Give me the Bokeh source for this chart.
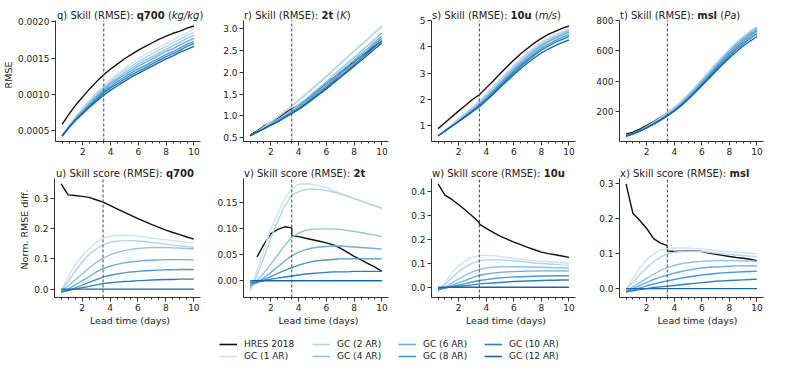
import math
from bokeh.plotting import figure
from bokeh.layouts import column, row, Spacer
from bokeh.models import FixedTicker, PrintfTickFormatter, Label, Legend, LegendItem, Range1d
from bokeh.embed import file_html
from bokeh.resources import INLINE

nan = float("nan")

# ---------------- data ----------------
LEAD = [0.5, 1.0, 1.5, 2.0, 2.5, 3.0, 3.5, 4.0, 4.5, 5.0, 5.5, 6.0, 6.5, 7.0, 7.5, 8.0, 8.5, 9.0, 9.5, 10.0]
LEAD_HRES_SCORE = [0.5, 1.0, 1.5, 2.0, 2.5, 3.0, 3.5, 3.5, 4.0, 4.5, 5.0, 5.5, 6.0, 6.5, 7.0, 7.5, 8.0, 8.5, 9.0, 9.5, 10.0]
SERIES = ["HRES 2018", "GC (1 AR)", "GC (2 AR)", "GC (4 AR)", "GC (6 AR)", "GC (8 AR)", "GC (10 AR)", "GC (12 AR)"]
X_TICKS = [2, 4, 6, 8, 10]
MARKER_DAY = 3.5  # dashed vertical reference line

# q700 RMSE (kg/kg)
q700_rmse_hres = [0.00059, 0.00073, 0.00086, 0.00097, 0.00108, 0.00118, 0.00127, 0.00135, 0.00142, 0.00149, 0.00155, 0.00161, 0.00166, 0.00171, 0.00176, 0.00180, 0.00184, 0.00187, 0.00191, 0.00194]
q700_rmse_gc1 = [0.00043, 0.00057, 0.00070, 0.00082, 0.00093, 0.00103, 0.00112, 0.00121, 0.00129, 0.00136, 0.00143, 0.00149, 0.00155, 0.00160, 0.00165, 0.00170, 0.00175, 0.00180, 0.00185, 0.00189]
q700_rmse_gc2 = [0.00043, 0.00056, 0.00069, 0.00080, 0.00091, 0.00101, 0.00110, 0.00118, 0.00126, 0.00133, 0.00139, 0.00145, 0.00151, 0.00156, 0.00161, 0.00166, 0.00171, 0.00176, 0.00181, 0.00185]
q700_rmse_gc4 = [0.00043, 0.00056, 0.00068, 0.00079, 0.00089, 0.00099, 0.00108, 0.00116, 0.00123, 0.00130, 0.00136, 0.00142, 0.00147, 0.00152, 0.00157, 0.00162, 0.00167, 0.00172, 0.00177, 0.00181]
q700_rmse_gc6 = [0.00043, 0.00055, 0.00067, 0.00077, 0.00087, 0.00097, 0.00106, 0.00114, 0.00121, 0.00127, 0.00133, 0.00139, 0.00144, 0.00149, 0.00154, 0.00159, 0.00163, 0.00168, 0.00173, 0.00177]
q700_rmse_gc8 = [0.00043, 0.00055, 0.00066, 0.00076, 0.00086, 0.00095, 0.00104, 0.00111, 0.00118, 0.00124, 0.00130, 0.00135, 0.00140, 0.00145, 0.00150, 0.00155, 0.00159, 0.00164, 0.00169, 0.00173]
q700_rmse_gc10 = [0.00043, 0.00055, 0.00066, 0.00075, 0.00084, 0.00093, 0.00102, 0.00109, 0.00115, 0.00121, 0.00127, 0.00132, 0.00137, 0.00142, 0.00147, 0.00152, 0.00156, 0.00161, 0.00166, 0.00170]
q700_rmse_gc12 = [0.00043, 0.00055, 0.00065, 0.00074, 0.00083, 0.00091, 0.00099, 0.00106, 0.00112, 0.00118, 0.00124, 0.00129, 0.00134, 0.00139, 0.00144, 0.00149, 0.00153, 0.00158, 0.00162, 0.00166]

# 2t RMSE (K)
t2m_rmse_hres = [0.56, 0.66, 0.77, 0.86, 0.95, 1.06, 1.16, 1.25, 1.36, 1.48, 1.61, 1.74, 1.87, 2.00, 2.12, 2.24, 2.36, 2.48, 2.60, 2.72]
t2m_rmse_gc1 = [0.54, 0.64, 0.75, 0.87, 0.98, 1.11, 1.24, 1.36, 1.50, 1.64, 1.78, 1.92, 2.06, 2.21, 2.35, 2.49, 2.63, 2.77, 2.92, 3.06]
t2m_rmse_gc2 = [0.54, 0.64, 0.74, 0.86, 0.97, 1.10, 1.22, 1.35, 1.48, 1.62, 1.76, 1.90, 2.05, 2.19, 2.34, 2.48, 2.62, 2.76, 2.91, 3.04]
t2m_rmse_gc4 = [0.54, 0.63, 0.72, 0.82, 0.91, 1.03, 1.14, 1.26, 1.38, 1.52, 1.65, 1.78, 1.93, 2.07, 2.21, 2.34, 2.48, 2.62, 2.76, 2.90]
t2m_rmse_gc6 = [0.54, 0.63, 0.71, 0.80, 0.89, 1.00, 1.10, 1.21, 1.34, 1.47, 1.60, 1.73, 1.87, 2.01, 2.14, 2.28, 2.42, 2.55, 2.70, 2.83]
t2m_rmse_gc8 = [0.55, 0.63, 0.71, 0.80, 0.88, 0.98, 1.08, 1.18, 1.30, 1.43, 1.56, 1.68, 1.82, 1.96, 2.09, 2.23, 2.37, 2.50, 2.65, 2.78]
t2m_rmse_gc10 = [0.55, 0.63, 0.71, 0.79, 0.87, 0.97, 1.06, 1.16, 1.28, 1.40, 1.52, 1.65, 1.78, 1.91, 2.04, 2.18, 2.31, 2.44, 2.59, 2.72]
t2m_rmse_gc12 = [0.55, 0.63, 0.71, 0.79, 0.87, 0.96, 1.05, 1.15, 1.26, 1.38, 1.50, 1.62, 1.75, 1.88, 2.01, 2.14, 2.27, 2.40, 2.54, 2.67]

# 10u RMSE (m/s)
u10_rmse_hres = [0.90, 1.12, 1.35, 1.57, 1.78, 2.00, 2.18, 2.44, 2.70, 2.97, 3.24, 3.49, 3.73, 3.94, 4.14, 4.31, 4.46, 4.58, 4.69, 4.78]
u10_rmse_gc1 = [0.62, 0.83, 1.05, 1.28, 1.50, 1.73, 1.96, 2.22, 2.49, 2.76, 3.03, 3.29, 3.54, 3.76, 3.97, 4.17, 4.32, 4.46, 4.57, 4.68]
u10_rmse_gc2 = [0.62, 0.82, 1.03, 1.25, 1.46, 1.69, 1.92, 2.18, 2.45, 2.73, 3.00, 3.26, 3.51, 3.73, 3.94, 4.13, 4.29, 4.42, 4.54, 4.64]
u10_rmse_gc4 = [0.62, 0.81, 1.01, 1.21, 1.42, 1.64, 1.86, 2.12, 2.38, 2.66, 2.93, 3.19, 3.44, 3.66, 3.88, 4.07, 4.23, 4.37, 4.49, 4.59]
u10_rmse_gc6 = [0.62, 0.81, 1.00, 1.19, 1.39, 1.60, 1.82, 2.07, 2.33, 2.60, 2.87, 3.13, 3.38, 3.61, 3.82, 4.02, 4.18, 4.31, 4.43, 4.54]
u10_rmse_gc8 = [0.62, 0.81, 0.99, 1.18, 1.37, 1.57, 1.78, 2.02, 2.28, 2.55, 2.81, 3.07, 3.31, 3.53, 3.74, 3.94, 4.09, 4.23, 4.35, 4.45]
u10_rmse_gc10 = [0.63, 0.81, 0.99, 1.17, 1.36, 1.56, 1.75, 1.99, 2.24, 2.50, 2.76, 3.01, 3.25, 3.47, 3.68, 3.87, 4.02, 4.16, 4.27, 4.38]
u10_rmse_gc12 = [0.63, 0.81, 0.99, 1.17, 1.35, 1.54, 1.73, 1.96, 2.20, 2.45, 2.70, 2.94, 3.17, 3.38, 3.58, 3.76, 3.91, 4.04, 4.15, 4.25]

# msl RMSE (Pa)
msl_rmse_hres = [50, 63, 84, 108, 133, 160, 190, 224, 263, 308, 356, 406, 458, 508, 556, 603, 646, 685, 719, 748]
msl_rmse_gc1 = [38, 54, 74, 100, 128, 158, 189, 225, 266, 310, 359, 410, 461, 512, 562, 610, 655, 695, 730, 762]
msl_rmse_gc2 = [38, 53, 73, 97, 125, 155, 187, 223, 263, 308, 356, 407, 458, 509, 559, 606, 650, 689, 725, 757]
msl_rmse_gc4 = [38, 52, 71, 95, 121, 149, 180, 215, 255, 299, 347, 397, 448, 499, 549, 596, 640, 680, 715, 747]
msl_rmse_gc6 = [38, 52, 71, 94, 119, 147, 177, 211, 250, 293, 340, 390, 440, 491, 540, 587, 632, 671, 706, 738]
msl_rmse_gc8 = [38, 52, 70, 93, 118, 145, 174, 207, 245, 287, 334, 382, 432, 482, 531, 577, 621, 660, 695, 728]
msl_rmse_gc10 = [38, 52, 70, 92, 116, 143, 171, 204, 241, 282, 327, 374, 423, 472, 519, 565, 607, 646, 680, 712]
msl_rmse_gc12 = [38, 52, 70, 92, 116, 142, 170, 202, 238, 278, 322, 368, 415, 462, 508, 552, 593, 630, 663, 693]

# q700 skill score
q700_score_hres = [0.350, 0.313, 0.311, 0.308, 0.305, 0.297, 0.289, 0.289, 0.278, 0.267, 0.256, 0.245, 0.234, 0.224, 0.214, 0.205, 0.196, 0.188, 0.181, 0.173, 0.166]
q700_score_gc1 = [-0.005, 0.040, 0.080, 0.110, 0.135, 0.155, 0.168, 0.175, 0.178, 0.179, 0.178, 0.176, 0.173, 0.170, 0.167, 0.164, 0.161, 0.158, 0.156, 0.154]
q700_score_gc2 = [-0.008, 0.025, 0.060, 0.090, 0.115, 0.133, 0.147, 0.155, 0.159, 0.161, 0.161, 0.160, 0.158, 0.155, 0.152, 0.149, 0.146, 0.143, 0.141, 0.139]
q700_score_gc4 = [-0.010, 0.010, 0.030, 0.050, 0.070, 0.088, 0.103, 0.114, 0.122, 0.128, 0.132, 0.135, 0.137, 0.138, 0.138, 0.138, 0.137, 0.136, 0.135, 0.134]
q700_score_gc6 = [-0.010, 0.000, 0.014, 0.027, 0.041, 0.056, 0.068, 0.076, 0.082, 0.087, 0.090, 0.093, 0.095, 0.096, 0.097, 0.098, 0.098, 0.098, 0.098, 0.097]
q700_score_gc8 = [-0.010, -0.005, 0.004, 0.013, 0.022, 0.031, 0.040, 0.046, 0.050, 0.054, 0.057, 0.059, 0.061, 0.062, 0.063, 0.064, 0.064, 0.065, 0.065, 0.065]
q700_score_gc10 = [-0.008, -0.004, 0.000, 0.005, 0.009, 0.014, 0.018, 0.021, 0.023, 0.025, 0.026, 0.028, 0.029, 0.030, 0.031, 0.032, 0.032, 0.033, 0.033, 0.033]
q700_score_gc12 = [0.0] * 20

# 2t skill score
t2m_score_hres = [nan, 0.046, 0.070, 0.091, 0.099, 0.104, 0.102, 0.087, 0.085, 0.082, 0.079, 0.076, 0.073, 0.069, 0.063, 0.055, 0.047, 0.040, 0.033, 0.026, 0.018]
t2m_score_gc1 = [-0.022, 0.020, 0.060, 0.100, 0.130, 0.158, 0.178, 0.186, 0.187, 0.186, 0.183, 0.179, 0.174, 0.169, 0.164, 0.159, 0.154, 0.149, 0.144, 0.139]
t2m_score_gc2 = [-0.017, 0.010, 0.045, 0.083, 0.115, 0.145, 0.165, 0.172, 0.176, 0.177, 0.176, 0.174, 0.171, 0.167, 0.163, 0.158, 0.154, 0.149, 0.145, 0.140]
t2m_score_gc4 = [-0.013, 0.000, 0.015, 0.032, 0.050, 0.068, 0.084, 0.092, 0.097, 0.099, 0.100, 0.100, 0.100, 0.099, 0.097, 0.095, 0.093, 0.090, 0.088, 0.085]
t2m_score_gc6 = [-0.010, -0.004, 0.006, 0.016, 0.027, 0.038, 0.048, 0.055, 0.060, 0.063, 0.065, 0.066, 0.067, 0.067, 0.066, 0.065, 0.064, 0.063, 0.062, 0.061]
t2m_score_gc8 = [-0.007, -0.003, 0.002, 0.008, 0.014, 0.020, 0.025, 0.030, 0.034, 0.037, 0.039, 0.040, 0.041, 0.042, 0.042, 0.042, 0.042, 0.042, 0.042, 0.042]
t2m_score_gc10 = [-0.004, -0.002, 0.000, 0.003, 0.005, 0.007, 0.009, 0.011, 0.013, 0.014, 0.015, 0.016, 0.017, 0.017, 0.017, 0.018, 0.018, 0.018, 0.018, 0.018]
t2m_score_gc12 = [0.0] * 20

# 10u skill score
u10_score_hres = [0.430, 0.383, 0.365, 0.343, 0.320, 0.295, 0.268, 0.262, 0.245, 0.228, 0.213, 0.200, 0.188, 0.177, 0.166, 0.156, 0.146, 0.140, 0.135, 0.130, 0.124]
u10_score_gc1 = [-0.020, 0.020, 0.060, 0.090, 0.110, 0.125, 0.132, 0.133, 0.131, 0.128, 0.124, 0.120, 0.116, 0.113, 0.110, 0.108, 0.106, 0.104, 0.102, 0.100]
u10_score_gc2 = [-0.017, 0.010, 0.040, 0.065, 0.085, 0.100, 0.110, 0.114, 0.115, 0.114, 0.112, 0.110, 0.107, 0.104, 0.101, 0.099, 0.097, 0.095, 0.093, 0.092]
u10_score_gc4 = [-0.013, 0.000, 0.018, 0.035, 0.050, 0.064, 0.075, 0.080, 0.083, 0.085, 0.085, 0.085, 0.085, 0.084, 0.083, 0.083, 0.082, 0.081, 0.081, 0.080]
u10_score_gc6 = [-0.010, -0.003, 0.008, 0.018, 0.029, 0.040, 0.050, 0.055, 0.059, 0.062, 0.064, 0.065, 0.066, 0.067, 0.067, 0.068, 0.068, 0.068, 0.068, 0.068]
u10_score_gc8 = [-0.008, -0.003, 0.003, 0.009, 0.015, 0.022, 0.028, 0.032, 0.036, 0.039, 0.041, 0.043, 0.044, 0.045, 0.046, 0.047, 0.047, 0.048, 0.048, 0.048]
u10_score_gc10 = [-0.005, -0.002, 0.001, 0.004, 0.007, 0.010, 0.014, 0.016, 0.018, 0.020, 0.022, 0.024, 0.025, 0.026, 0.027, 0.028, 0.029, 0.029, 0.030, 0.030]
u10_score_gc12 = [0.0] * 20

# msl skill score
msl_score_hres = [0.300, 0.215, 0.195, 0.172, 0.143, 0.130, 0.123, 0.108, 0.106, 0.107, 0.108, 0.108, 0.106, 0.102, 0.098, 0.095, 0.092, 0.089, 0.087, 0.084, 0.080]
msl_score_gc1 = [0.000, 0.030, 0.060, 0.083, 0.100, 0.110, 0.114, 0.116, 0.116, 0.116, 0.115, 0.113, 0.111, 0.109, 0.107, 0.105, 0.104, 0.103, 0.101, 0.100]
msl_score_gc2 = [-0.003, 0.018, 0.040, 0.060, 0.077, 0.090, 0.099, 0.104, 0.106, 0.107, 0.107, 0.106, 0.104, 0.102, 0.100, 0.098, 0.096, 0.094, 0.093, 0.092]
msl_score_gc4 = [-0.006, 0.005, 0.017, 0.029, 0.041, 0.052, 0.060, 0.066, 0.071, 0.074, 0.077, 0.078, 0.079, 0.080, 0.080, 0.080, 0.080, 0.079, 0.079, 0.078]
msl_score_gc6 = [-0.008, 0.000, 0.009, 0.018, 0.026, 0.033, 0.039, 0.044, 0.049, 0.053, 0.056, 0.059, 0.061, 0.062, 0.063, 0.064, 0.065, 0.065, 0.065, 0.065]
msl_score_gc8 = [-0.009, -0.004, 0.002, 0.008, 0.013, 0.018, 0.022, 0.026, 0.030, 0.033, 0.036, 0.039, 0.041, 0.043, 0.045, 0.046, 0.047, 0.048, 0.049, 0.050]
msl_score_gc10 = [-0.010, -0.006, -0.003, 0.000, 0.003, 0.005, 0.007, 0.009, 0.011, 0.013, 0.015, 0.017, 0.019, 0.021, 0.022, 0.023, 0.024, 0.025, 0.026, 0.027]
msl_score_gc12 = [0.0] * 20

# y ticks per panel
q700_rmse_ticks = [0.0005, 0.0010, 0.0015, 0.0020]
t2m_rmse_ticks = [0.5, 1.0, 1.5, 2.0, 2.5, 3.0]
u10_rmse_ticks = [1, 2, 3, 4, 5]
msl_rmse_ticks = [200, 400, 600, 800]
q700_score_ticks = [0.0, 0.1, 0.2, 0.3]
t2m_score_ticks = [0.00, 0.05, 0.10, 0.15]
u10_score_ticks = [0.0, 0.1, 0.2, 0.3, 0.4]
msl_score_ticks = [0.0, 0.1, 0.2, 0.3]

# ---------------- style ----------------
HRES_COLOR = "#111111"
GC_COLORS = ["#cfe1f2", "#b5d3ea", "#93c3df", "#6baed6", "#4b98ca", "#2f7ebc", "#1764ab"]
TEXT = "#222222"
FONT = "DejaVu Sans"

# DejaVu Sans advance widths (units of 1/2048 em) for title layout
REG_W = {" ": 651, "(": 799, ")": 799, "/": 690, ":": 690, "E": 1294, "K": 1343, "M": 1767,
         "P": 1235, "R": 1423, "S": 1300, "a": 1255, "c": 1126, "e": 1260, "g": 1300, "i": 569,
         "k": 1186, "l": 569, "m": 1995, "o": 1253, "q": 1300, "r": 842, "s": 1067, "t": 803,
         "u": 1298, "v": 1212, "w": 1675, "x": 1212}
BOLD_W = {"q": 1466, "t": 979, "u": 1458, "m": 2134, "s": 1219, "l": 702}
TITLE_SIZE = 10


def text_width(s, bold=False, size=TITLE_SIZE):
    tot = 0
    for ch in s:
        if ch.isdigit():
            tot += 1425 if bold else 1303
        else:
            tot += (BOLD_W if bold else REG_W).get(ch, 1250)
    return tot / 2048.0 * size


COLS = [  # (left border, data frame width, extra frame width on the right for the title, right border)
    (54, 146, 5, 1),
    (37, 145, 5, 1),
    (37, 144, 5, 1),
    (38, 144, 12, 8),
]
# (space for title inside frame, data-area height, bottom border, title baseline above data area)
TOP_ROW = (12, 121, 20, 4.7)
BOT_ROW = (17, 120, 30, 4.4)


def finite(vals):
    return [v for v in vals if not (isinstance(v, float) and math.isnan(v))]


def add_label(p, y, x, text, style):
    p.add_layout(Label(x=x, x_units="screen", y=y, y_units="screen",
                       text=text, text_font=FONT, text_font_size=f"{TITLE_SIZE}px",
                       text_font_style=style, text_color=TEXT,
                       text_align="left", text_baseline="alphabetic"))


def add_title(p, y, start, prefix, var, unit):
    # start: left edge of the title relative to the frame's left edge (px)
    sp = text_width(" ")
    add_label(p, y, start, prefix, "normal")
    a1 = start + text_width(prefix) + sp
    add_label(p, y, a1, var, "bold")
    if unit is not None:
        a2 = a1 + text_width(var, bold=True) + sp
        add_label(p, y, a2, "(", "normal")
        a3 = a2 + text_width("(")
        add_label(p, y, a3, unit, "italic")
        a4 = a3 + text_width(unit)
        add_label(p, y, a4, ")", "normal")


def make_panel(col, rowspec, hres_x, hres_y, gc_list, yticks, yfmt, prefix, var, unit, tstart, ylabel, xlabel):
    L, FW, EXT, R = COLS[col]
    EXTRA, FHD, B, TB = rowspec
    allv = finite(hres_y)
    for g in gc_list:
        allv += finite(g)
    mn, mx = min(allv), max(allv)
    pad = 0.05 * (mx - mn)
    lo, hi = mn - pad, mx + pad
    ytop = hi + (hi - lo) * EXTRA / FHD

    xmn, xmx = min(LEAD), max(LEAD)
    xpad = 0.05 * (xmx - xmn)
    xlo, xhi = xmn - xpad, xmx + xpad
    xright = xhi + (xhi - xlo) * EXT / FW

    p = figure(width=L + FW + EXT + R, height=EXTRA + FHD + B, output_backend="svg", toolbar_location=None,
               x_range=Range1d(xlo, xright), y_range=Range1d(lo, ytop),
               min_border_left=L, min_border_right=R, min_border_top=0, min_border_bottom=B)
    p.outline_line_color = None
    p.xgrid.visible = False
    p.ygrid.visible = False
    p.background_fill_color = "white"
    p.border_fill_color = "white"

    p.line(hres_x, hres_y, line_color=HRES_COLOR, line_width=1.4)
    for ys, c in zip(gc_list, GC_COLORS):
        p.line(LEAD, ys, line_color=c, line_width=1.4)

    p.segment(x0=[MARKER_DAY], y0=[lo], x1=[MARKER_DAY], y1=[hi], line_color="#555555",
              line_width=1.1, line_dash="3 2")

    p.xaxis.ticker = FixedTicker(ticks=X_TICKS, minor_ticks=LEAD)
    p.yaxis.ticker = FixedTicker(ticks=yticks, minor_ticks=[])
    p.yaxis.formatter = PrintfTickFormatter(format=yfmt)
    p.xaxis.formatter = PrintfTickFormatter(format="%d")
    p.yaxis.bounds = (lo, hi)
    p.xaxis.bounds = (xlo, xhi)
    for ax in (p.xaxis[0], p.yaxis[0]):
        ax.axis_line_color = "#333333"
        ax.axis_line_width = 1
        ax.major_tick_line_color = "#333333"
        ax.minor_tick_line_color = "#333333"
        ax.major_tick_out = 4
        ax.major_tick_in = 0
        ax.minor_tick_out = 2
        ax.minor_tick_in = 0
        ax.major_label_text_font = FONT
        ax.major_label_text_font_size = "9px"
        ax.major_label_text_color = TEXT
        ax.major_label_standoff = 2
        ax.axis_label_text_font = FONT
        ax.axis_label_text_font_size = "9.5px"
        ax.axis_label_text_font_style = "normal"
        ax.axis_label_text_color = TEXT
        ax.axis_label_standoff = 1
    p.yaxis.minor_tick_line_color = None
    if ylabel:
        p.yaxis.axis_label = ylabel
    if xlabel:
        p.xaxis.axis_label = xlabel

    add_title(p, FHD + TB, tstart, prefix, var, unit)
    return p


panels_top = [
    ("q) Skill (RMSE):", "q700", "kg/kg", q700_rmse_hres,
     [q700_rmse_gc1, q700_rmse_gc2, q700_rmse_gc4, q700_rmse_gc6, q700_rmse_gc8, q700_rmse_gc10, q700_rmse_gc12],
     q700_rmse_ticks, "%.4f", 1.5),
    ("r) Skill (RMSE):", "2t", "K", t2m_rmse_hres,
     [t2m_rmse_gc1, t2m_rmse_gc2, t2m_rmse_gc4, t2m_rmse_gc6, t2m_rmse_gc8, t2m_rmse_gc10, t2m_rmse_gc12],
     t2m_rmse_ticks, "%.1f", 0.5),
    ("s) Skill (RMSE):", "10u", "m/s", u10_rmse_hres,
     [u10_rmse_gc1, u10_rmse_gc2, u10_rmse_gc4, u10_rmse_gc6, u10_rmse_gc8, u10_rmse_gc10, u10_rmse_gc12],
     u10_rmse_ticks, "%d", 0.5),
    ("t) Skill (RMSE):", "msl", "Pa", msl_rmse_hres,
     [msl_rmse_gc1, msl_rmse_gc2, msl_rmse_gc4, msl_rmse_gc6, msl_rmse_gc8, msl_rmse_gc10, msl_rmse_gc12],
     msl_rmse_ticks, "%d", 0.5),
]
panels_bot = [
    ("u) Skill score (RMSE):", "q700", q700_score_hres,
     [q700_score_gc1, q700_score_gc2, q700_score_gc4, q700_score_gc6, q700_score_gc8, q700_score_gc10, q700_score_gc12],
     q700_score_ticks, "%.1f", 1.5),
    ("v) Skill score (RMSE):", "2t", t2m_score_hres,
     [t2m_score_gc1, t2m_score_gc2, t2m_score_gc4, t2m_score_gc6, t2m_score_gc8, t2m_score_gc10, t2m_score_gc12],
     t2m_score_ticks, "%.2f", 0.5),
    ("w) Skill score (RMSE):", "10u", u10_score_hres,
     [u10_score_gc1, u10_score_gc2, u10_score_gc4, u10_score_gc6, u10_score_gc8, u10_score_gc10, u10_score_gc12],
     u10_score_ticks, "%.1f", 0.5),
    ("x) Skill score (RMSE):", "msl", msl_score_hres,
     [msl_score_gc1, msl_score_gc2, msl_score_gc4, msl_score_gc6, msl_score_gc8, msl_score_gc10, msl_score_gc12],
     msl_score_ticks, "%.1f", 0.5),
]

top_figs = []
for i, (pre, var, unit, hres, gcs, yt, fmt, ts) in enumerate(panels_top):
    top_figs.append(make_panel(i, TOP_ROW, LEAD, hres, gcs, yt, fmt, pre, var, unit, ts,
                               "RMSE" if i == 0 else None, None))

bot_figs = []
for i, (pre, var, hres, gcs, yt, fmt, ts) in enumerate(panels_bot):
    bot_figs.append(make_panel(i, BOT_ROW, LEAD_HRES_SCORE, hres, gcs, yt, fmt, pre, var, None, ts,
                               "Norm. RMSE diff." if i == 0 else None, "Lead time (days)"))

# ---------------- legend ----------------
lf = figure(width=783, height=35, output_backend="svg", toolbar_location=None,
            x_range=Range1d(0, 1), y_range=Range1d(0, 1),
            min_border_left=0, min_border_right=0, min_border_top=0, min_border_bottom=0,
            x_axis_location=None, y_axis_location=None)
lf.outline_line_color = None
lf.xgrid.visible = False
lf.ygrid.visible = False
leg_renderers = [lf.line(x=[nan], y=[nan], line_color=HRES_COLOR, line_width=1.6)]
for c in GC_COLORS:
    leg_renderers.append(lf.line(x=[nan], y=[nan], line_color=c, line_width=1.6))

leg_x = [219, 312, 398, 484]
for k in range(4):
    items = [LegendItem(label=SERIES[2 * k + j], renderers=[leg_renderers[2 * k + j]]) for j in range(2)]
    lg = Legend(items=items, location=(leg_x[k], 1), orientation="vertical",
                padding=0, margin=0, spacing=0, glyph_width=18, glyph_height=12,
                label_height=12, label_standoff=7, label_text_font=FONT,
                label_text_font_size="9px", label_text_color=TEXT,
                background_fill_alpha=0, border_line_color=None)
    lf.add_layout(lg, "center")

layout = column(Spacer(width=783, height=8), row(*top_figs), row(*bot_figs), lf)

with open("out.html", "w") as f:
    f.write(file_html(layout, INLINE))
